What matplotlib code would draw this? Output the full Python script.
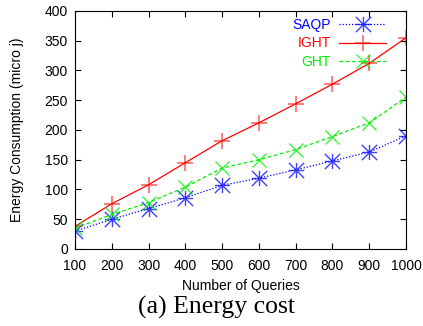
import matplotlib
matplotlib.use("Agg")
import matplotlib.pyplot as plt
import numpy as np
from matplotlib.path import Path

plt.rcParams['font.family'] = ['Liberation Sans', 'DejaVu Sans']
plt.rcParams['font.size'] = 10

# data
queries = [100, 200, 300, 400, 500, 600, 700, 800, 900, 1000]
saqp = [30, 50, 68, 86, 107, 119, 133, 148, 163, 190]
ight = [38, 76, 108, 145, 182, 212, 244, 277, 312, 355]
ght = [35, 58, 78, 104, 136, 150, 167, 189, 212, 255]

# gnuplot style asterisk (plus + cross)
asterisk = Path([(-1, 0), (1, 0), (0, -1), (0, 1),
                 (-1, -1), (1, 1), (-1, 1), (1, -1)],
                [Path.MOVETO, Path.LINETO] * 4)

fig = plt.figure(figsize=(4.23, 3.26), dpi=100)
ax = fig.add_axes([0.1773, 0.2362, 0.9598 - 0.1773, 0.9663 - 0.2362])

ax.plot(queries, saqp, color='#0000ff', lw=0.9, ls=(0, (1, 1.5)),
        marker=asterisk, ms=11, mfc='none', mec=(0, 0, 1, 0.75), mew=1.0,
        label='SAQP')
ax.plot(queries, ight, color='#ff0000', lw=0.9, ls='-',
        marker='+', ms=11, mec=(1, 0, 0, 0.65), mew=1.1, label='IGHT')
ax.plot(queries, ght, color='#00ee00', lw=0.9, ls=(0, (3, 2)),
        marker='x', ms=10.5, mec=(0, 0.93, 0, 0.75), mew=1.0, label='GHT')

ax.set_xlim(100, 1000)
ax.set_ylim(0, 400)
ax.set_xticks(queries)
ax.set_yticks(np.arange(0, 401, 50))
ax.tick_params(direction='in', top=True, right=True, length=4, width=0.8,
               labelsize=10)
ax.tick_params(axis='x', pad=7)
ax.tick_params(axis='y', pad=5)
for s in ax.spines.values():
    s.set_linewidth(0.8)

ax.set_xlabel('Number of Queries', fontsize=10)
ax.set_ylabel('Energy Consumption (micro j)', fontsize=10)
ax.xaxis.set_label_coords(0.5, -0.128)
ax.yaxis.set_label_coords(-0.154, 0.5)

leg = ax.legend(loc='upper right', markerfirst=False, frameon=False,
                labelcolor='linecolor', handlelength=3.4, handletextpad=0.6,
                labelspacing=0.32, borderaxespad=0.1, fontsize=10,
                bbox_to_anchor=(0.962, 1.0))

fig.text(0.511, 0.058, '(a) Energy cost', ha='center', va='center',
         family=['Liberation Serif', 'DejaVu Serif'], fontsize=18.5)

fig.savefig('out.png', dpi=100)
